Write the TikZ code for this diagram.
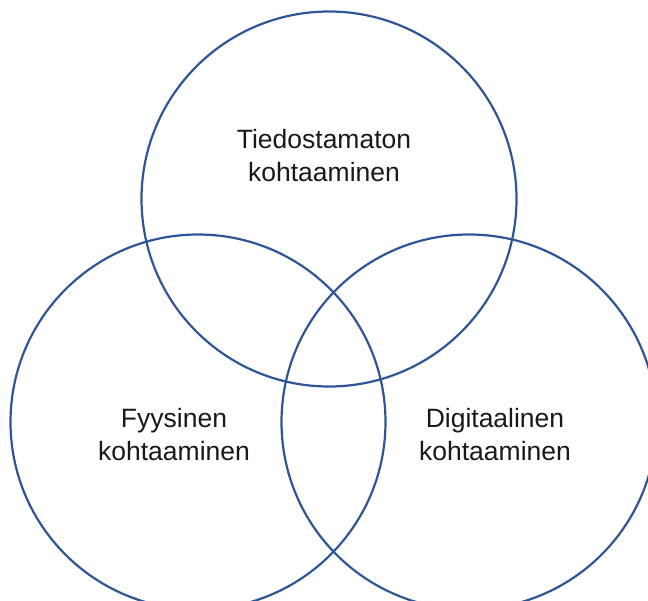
\documentclass[tikz,border=0pt]{standalone}
\usepackage{fontspec}
\setmainfont{Liberation Sans}
\usepackage{xcolor}
\usetikzlibrary{positioning}
\definecolor{ringblue}{RGB}{47,85,151}

\begin{document}
\begin{tikzpicture}[x=1pt, y=-1pt,
		ring/.style={draw=ringblue, line width=2.2pt},
		caption/.style={align=center, font=\fontsize{26.5}{33}\selectfont, text=black!90}]
		% Fix the viewing box
		\useasboundingbox (0,0) rectangle (648,600);
		\clip (0,0) rectangle (648,600);
		
		% 1. Circle centres
		\coordinate (Top) at (329, 199);
		\coordinate (Left) at (198, 422);
		\coordinate (Right) at (469, 422);
		
		% 2. The three circles
		\foreach \c in {Top, Left, Right} {
			\draw[ring] (\c) circle (187.5);
		}
		
		% 3. Labels
		\node[caption] (tiedostamaton) at (324, 156) {Tiedostamaton\\ kohtaaminen};
		\node[caption] (fyysinen) at (174, 435) {Fyysinen\\kohtaaminen};
		\node[caption] (digitaalinen) at (495, 435) {Digitaalinen\\kohtaaminen};
		
	\end{tikzpicture}
\end{document}
